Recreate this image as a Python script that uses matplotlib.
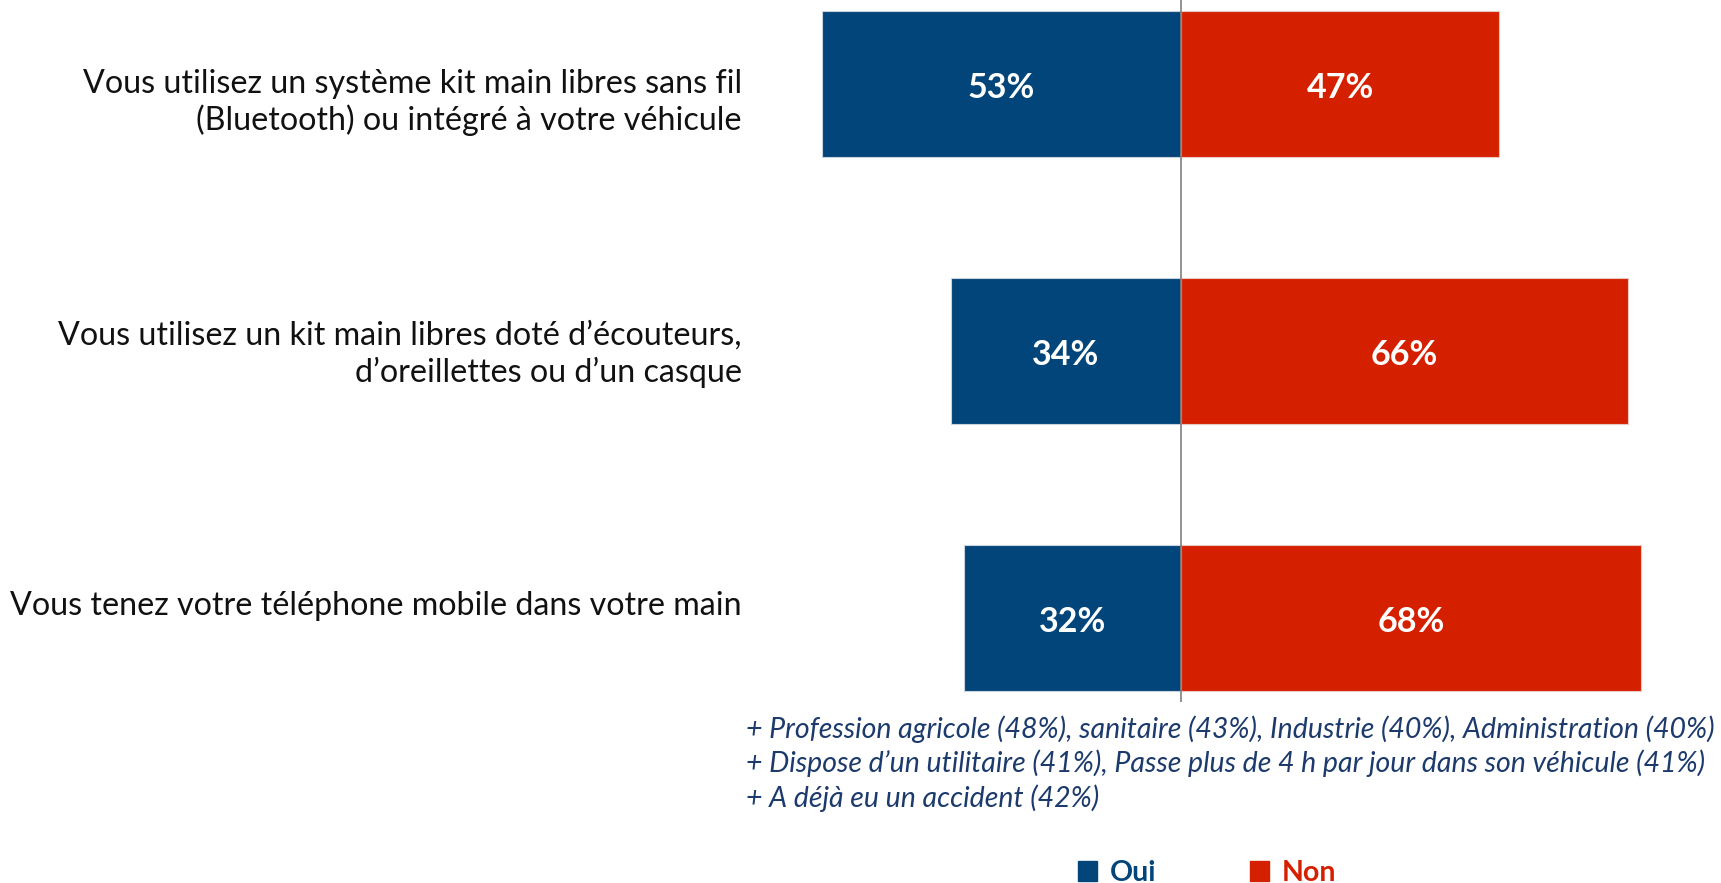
import matplotlib.pyplot as plt
from matplotlib.patches import Patch

plt.rcParams['font.family'] = ['Lato', 'DejaVu Sans']

labels = [
    "Vous utilisez un système kit main libres sans fil\n(Bluetooth) ou intégré à votre véhicule",
    "Vous utilisez un kit main libres doté d’écouteurs,\nd’oreillettes ou d’un casque",
    "Vous tenez votre téléphone mobile dans votre main",
]
oui = [53, 34, 32]
non = [47, 66, 68]
notes = [
    "+ Profession agricole (48%), sanitaire (43%), Industrie (40%), Administration (40%)",
    "+ Dispose d’un utilitaire (41%), Passe plus de 4 h par jour dans son véhicule (41%)",
    "+ A déjà eu un accident (42%)",
]

bleu = '#02457A'
rouge = '#D52000'
texte_notes = '#1C3A6B'

W, H = 1721, 883
fig = plt.figure(figsize=(W / 100, H / 100), dpi=100)
ax = fig.add_axes([0, 0, 1, 1])

# echelle: 0% a x=1181 px, ~6.77 px par point
px = 6.77
ax.set_xlim(-1181 / px, (W - 1181) / px)
# barres a y=84, 351, 618 px depuis le haut
pas = 267
ax.set_ylim((H - 84) / pas, -84 / pas)
ax.axis('off')

y = list(range(len(labels)))
# decalage vertical des libelles (pas exactement centres dans l'original)
decal = [0.07, 0.012, -0.045]

neg_oui = [-v for v in oui]
b1 = ax.barh(y, neg_oui, height=0.547, color=bleu, edgecolor='#c9d3dd', linewidth=0.8)
b2 = ax.barh(y, non, height=0.547, color=rouge, edgecolor='#e8c8c0', linewidth=0.8)

for i in y:
    ax.text(-oui[i] / 2, i + 0.016, f"{oui[i]}%", ha='center', va='center', color='white',
            fontsize=24.5, fontweight='bold')
    ax.text(non[i] / 2, i + 0.016, f"{non[i]}%", ha='center', va='center', color='white',
            fontsize=24.5, fontweight='bold')
    ax.text(-1181 / px + 742 / px, i + decal[i], labels[i], ha='right', va='center',
            fontsize=23.2, color='#111111', linespacing=1.22)

ax.vlines(0, -84 / pas, (702 - 84) / pas, color='#7f7f7f', linewidth=1.2)

for k, note in enumerate(notes):
    fig.text(746 / W, 1 - (729 + 34.5 * k) / H, note, ha='left', va='center',
             fontsize=20.5, fontstyle='italic', color=texte_notes)

handles = [Patch(color=bleu, label='Oui'), Patch(color=rouge, label='Non')]
leg = fig.legend(handles=handles, loc='center', bbox_to_anchor=(1207 / W, 1 - 873 / H),
                 ncol=2, frameon=False, handlelength=0.66, handleheight=0.66,
                 handletextpad=0.45, columnspacing=3.3, prop={'weight': 'bold', 'size': 20.5})
leg.get_texts()[0].set_color(bleu)
leg.get_texts()[1].set_color(rouge)

fig.savefig('out.png', dpi=100)
